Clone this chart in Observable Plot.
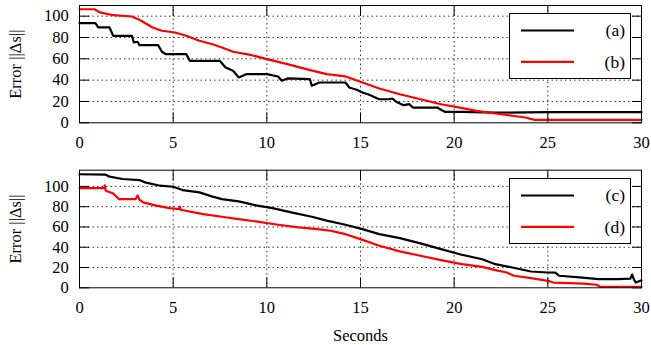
<!DOCTYPE html>
<html>
<head>
<meta charset="utf-8">
<script src="https://cdn.jsdelivr.net/npm/d3@7"></script>
<script src="https://cdn.jsdelivr.net/npm/@observablehq/plot@0.6"></script>
<style>
  html, body { margin: 0; padding: 0; background: #fff; }
  #wrap { position: relative; width: 651px; height: 345px; font-family: "Liberation Serif", "DejaVu Serif", serif; }
  .leg { position: absolute; }
  svg text { font-family: "Liberation Serif", serif; }
</style>
</head>
<body>
<div id="wrap"></div>
<script>
// ---- data ----
const xTicks = [0, 5, 10, 15, 20, 25, 30];
const yTicks = [0, 20, 40, 60, 80, 100];

const tA = [0, 0.85, 1.0, 1.6, 1.8, 2.8, 2.9, 3.1, 3.2, 4.2, 4.4, 4.6, 5.7, 5.9, 6.1, 7.5, 7.8, 8.2, 8.5, 8.9, 10.0, 10.6, 10.8, 11.1, 12.3, 12.4, 12.8, 14.2, 14.4, 14.8, 15.1, 15.4, 16.0, 16.5, 16.7, 16.9, 17.3, 17.6, 17.8, 19.1, 19.3, 19.5, 20.4, 22.2, 25, 27.5, 30];
const a  = [93.4, 93.4, 89.4, 89.4, 81.6, 81.6, 75.3, 76, 72.8, 72.8, 66.6, 64.4, 64.4, 58, 58, 58, 51.9, 48.8, 42.5, 45.6, 45.6, 43.4, 39.4, 41.6, 40.9, 34.7, 37.8, 37.8, 33.1, 31, 28.4, 26.8, 22.1, 22.1, 22.8, 19.8, 16.5, 17.5, 14.3, 14.3, 12.2, 10.3, 10.3, 9.5, 10, 10, 10];

const tB = [0, 0.8, 1.1, 1.8, 2.8, 3.3, 3.9, 4.4, 5.1, 5.7, 6.4, 7.1, 7.6, 8.2, 9.2, 10.0, 11.1, 12.1, 13.2, 14.2, 15.0, 16.0, 17.1, 18.2, 19.3, 20.3, 21.2, 22.2, 23.1, 23.8, 24.3, 27, 30];
const b  = [106.5, 106.5, 103.5, 100.9, 99.7, 95.7, 89.4, 86.3, 84.7, 81.6, 76.9, 73.7, 70.6, 66.6, 63.4, 59.7, 55, 50.3, 45.6, 43.5, 38.5, 32.2, 26.8, 22.1, 17.4, 14.3, 11.2, 8.7, 6.6, 5, 2.8, 2.8, 2.8];

const tC = [0, 1.4, 1.6, 2.3, 3.2, 3.5, 4.3, 5.0, 5.5, 6.4, 7.1, 7.6, 8.5, 9.5, 10.3, 11.3, 12.4, 13.2, 14.2, 15.1, 16.0, 17.1, 18.2, 19.3, 20.4, 21.5, 22.2, 23.1, 24.1, 25.0, 25.4, 25.6, 26.7, 27.7, 28.8, 29.4, 29.5, 29.6, 29.7, 30];
const c  = [112, 111.6, 109.6, 107.3, 106.3, 104, 100.7, 99.7, 96.4, 94.1, 89.9, 87.5, 85.2, 81, 78.6, 74.4, 70.1, 66.2, 62.2, 57.9, 52.9, 49, 43.8, 38.1, 32.6, 28.2, 23.3, 20, 16.1, 15.1, 15, 11.9, 10.2, 8.5, 8.5, 9, 13, 8, 5.2, 7.5];

const tD = [0, 1.3, 1.35, 1.4, 1.8, 2.1, 3.0, 3.1, 3.2, 3.4, 4.1, 4.8, 5.3, 5.35, 5.4, 6.6, 7.6, 8.5, 9.5, 10.6, 11.7, 12.7, 13.4, 14.2, 15.0, 16.0, 17.1, 18.2, 19.3, 20.4, 21.5, 22.2, 22.8, 23.2, 24.1, 25.0, 25.3, 26.9, 27.6, 27.8, 30];
const d  = [98.4, 98.4, 101, 95.8, 93.1, 87.5, 87.5, 91, 87, 84.2, 81, 78.6, 77.6, 80, 77, 72.7, 70.1, 67.8, 65.2, 62.2, 59.6, 57.9, 56.3, 52.9, 48, 41.5, 35.9, 31.6, 27.3, 23.3, 20.7, 17.4, 15.1, 11.9, 9.5, 6.9, 5.2, 4.2, 3, 1, 1];

const topLabels = ["(a)", "(b)"];
const botLabels = ["(c)", "(d)"];
const colors = ["#000000", "#ff0000"];
const yLabel = "Error ||Δs||";
const xLabel = "Seconds";

const toRows = (t, v) => t.map((x, i) => ({x, y: v[i]}));
const FS = 16.5;

function panel({s1, s2, yMax, height, mt, mb, withX}) {
  const gridStyle = {stroke: "#333", strokeOpacity: 1, strokeDasharray: "1.5,3"};
  return Plot.plot({
    width: 651, height,
    marginLeft: 79, marginRight: 10, marginTop: mt, marginBottom: mb,
    style: {fontFamily: "'Liberation Serif', serif", fontSize: FS + "px", background: "#fff", color: "#000", overflow: "visible"},
    x: {domain: [0, 30]},
    y: {domain: [0, yMax]},
    marks: [
      Plot.gridX(xTicks.slice(1, -1), gridStyle),
      Plot.gridY(yTicks.slice(1), gridStyle),
      Plot.lineY(s1, {x: "x", y: "y", stroke: colors[0], strokeWidth: 2.2}),
      Plot.lineY(s2, {x: "x", y: "y", stroke: colors[1], strokeWidth: 2.2}),
      // inward tick marks on all four sides
      Plot.axisX(xTicks, {anchor: "bottom", tickSize: -10, tickFormat: () => "", label: null}),
      Plot.axisX(xTicks, {anchor: "top", tickSize: -10, tickFormat: () => "", label: null}),
      Plot.axisY(yTicks, {anchor: "left", tickSize: -10, tickFormat: () => "", label: null}),
      Plot.axisY(yTicks, {anchor: "right", tickSize: -10, tickFormat: () => "", label: null}),
      // tick labels
      Plot.axisX(xTicks, {anchor: "bottom", tickSize: 0, tickPadding: 13, label: null, fontSize: FS}),
      Plot.axisY(yTicks, {anchor: "left", tickSize: 0, tickPadding: 10.7, label: null, fontSize: FS}),
      // axis titles
      Plot.text([yLabel], {text: d => d, frameAnchor: "left", rotate: -90, dx: -64, fontSize: FS, textAnchor: "middle"}),
      withX ? Plot.text([xLabel], {text: d => d, frameAnchor: "bottom", dy: 53, fontSize: FS, textAnchor: "middle"}) : null,
      Plot.frame({stroke: "#000", strokeWidth: 1})
    ]
  });
}

function legend(top, labels) {
  const ns = "http://www.w3.org/2000/svg";
  const svg = document.createElementNS(ns, "svg");
  svg.setAttribute("width", 124); svg.setAttribute("height", 68);
  svg.setAttribute("class", "leg");
  svg.style.left = "508px"; svg.style.top = (top - 1) + "px";
  svg.innerHTML =
    `<rect x="1.5" y="1.5" width="121" height="65" fill="#fff" stroke="#000" stroke-width="1"/>` +
    labels.map((lab, i) => {
      const yy = 18.5 + i * 31.3;
      return `<line x1="13" x2="66" y1="${yy}" y2="${yy}" stroke="${colors[i]}" stroke-width="2.2"/>` +
        `<text x="117" y="${yy}" dy="0.33em" text-anchor="end" font-family="Liberation Serif, serif" font-size="${FS + 1}">${lab}</text>`;
    }).join("");
  return svg;
}

const wrap = document.getElementById("wrap");
const p1 = panel({s1: toRows(tA, a), s2: toRows(tB, b), yMax: 110, height: 160, mt: 5, mb: 37.7, withX: false});
const p2 = panel({s1: toRows(tC, c), s2: toRows(tD, d), yMax: 116, height: 185, mt: 9.7, mb: 57.7, withX: true});
p1.style.display = "block"; p2.style.display = "block";
wrap.appendChild(p1);
wrap.appendChild(p2);
wrap.appendChild(legend(13, topLabels));
wrap.appendChild(legend(178, botLabels));
</script>
</body>
</html>
